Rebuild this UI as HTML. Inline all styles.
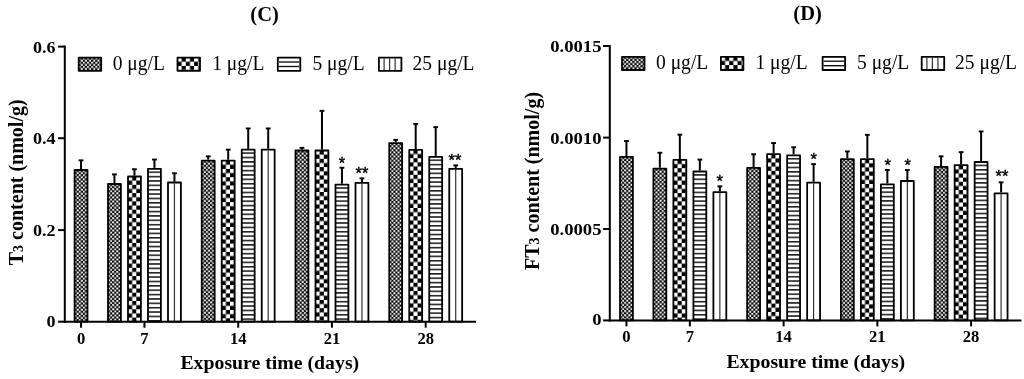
<!DOCTYPE html>
<html lang="en">
<head>
<meta charset="utf-8">
<title>T3 and FT3 content</title>
<style>
html,body{margin:0;padding:0;background:#fff;}
body{width:1024px;height:379px;overflow:hidden;}
svg{display:block;filter:blur(0.35px);}
text{font-family:"Liberation Serif","Times New Roman",serif;fill:#000;}
.tk{font-weight:bold;font-size:17.2px;}
.at{font-weight:bold;font-size:20px;}
.tt{font-weight:bold;font-size:20.5px;}
.lg{font-size:20.5px;}
.st{font-family:"Liberation Sans",Arial,sans-serif;font-size:16.5px;stroke:#000;stroke-width:0.4px;}
</style>
</head>
<body>
<svg width="1024" height="379" viewBox="0 0 1024 379">
<defs>
<pattern id="pf" patternUnits="userSpaceOnUse" width="4.14" height="4.14" x="0" y="0">
<rect width="4.14" height="4.14" fill="#0a0a0a"/>
<rect x="0.1" y="0.1" width="1.87" height="1.87" fill="#fff"/>
<rect x="2.17" y="2.17" width="1.87" height="1.87" fill="#fff"/>
</pattern>
<pattern id="pc" patternUnits="userSpaceOnUse" width="8.3" height="8.3" x="0" y="0">
<rect width="8.3" height="8.3" fill="#000"/>
<rect x="0" y="0" width="4.15" height="4.15" fill="#fff"/>
<rect x="4.15" y="4.15" width="4.15" height="4.15" fill="#fff"/>
</pattern>
<pattern id="ph" patternUnits="userSpaceOnUse" width="20" height="4.37" x="0" y="0">
<rect width="20" height="4.37" fill="#fff"/>
<rect x="0" y="2.7" width="20" height="1.45" fill="#0d0d0d"/>
</pattern>
<pattern id="pv" patternUnits="userSpaceOnUse" width="20" height="10">
<rect width="20" height="10" fill="#fff"/>
</pattern>
</defs>
<rect width="1024" height="379" fill="#fff"/>
<g id="chartC">
<line x1="81.05" y1="169.1" x2="81.05" y2="159.9" stroke="#000" stroke-width="2.0"/>
<line x1="78.65" y1="160.35" x2="83.45" y2="160.35" stroke="#000" stroke-width="1.9"/>
<g transform="translate(74.6,170)"><rect x="0" y="0" width="12.9" height="151.7" fill="url(#pf)" stroke="#000" stroke-width="1.8" stroke-linejoin="round"/></g>
<line x1="114.45" y1="183.1" x2="114.45" y2="173.9" stroke="#000" stroke-width="2.0"/>
<line x1="112.05" y1="174.35" x2="116.85" y2="174.35" stroke="#000" stroke-width="1.9"/>
<g transform="translate(108,184)"><rect x="0" y="0" width="12.9" height="137.7" fill="url(#pf)" stroke="#000" stroke-width="1.8" stroke-linejoin="round"/></g>
<line x1="134.45" y1="175.6" x2="134.45" y2="168.8" stroke="#000" stroke-width="2.0"/>
<line x1="132.05" y1="169.25" x2="136.85" y2="169.25" stroke="#000" stroke-width="1.9"/>
<g transform="translate(128,176.5)"><rect x="0" y="0" width="12.9" height="145.2" fill="url(#pc)" stroke="#000" stroke-width="1.8" stroke-linejoin="round"/></g>
<line x1="154.45" y1="167.9" x2="154.45" y2="159.1" stroke="#000" stroke-width="2.0"/>
<line x1="152.05" y1="159.55" x2="156.85" y2="159.55" stroke="#000" stroke-width="1.9"/>
<g transform="translate(148,168.8)"><rect x="0" y="0" width="12.9" height="152.9" fill="url(#ph)" stroke="#000" stroke-width="1.8" stroke-linejoin="round"/></g>
<line x1="174.45" y1="181.6" x2="174.45" y2="172.8" stroke="#000" stroke-width="2.0"/>
<line x1="172.05" y1="173.25" x2="176.85" y2="173.25" stroke="#000" stroke-width="1.9"/>
<g transform="translate(168,182.5)"><rect x="0" y="0" width="12.9" height="139.2" fill="url(#pv)" stroke="#000" stroke-width="1.8" stroke-linejoin="round"/></g>
<line x1="174.45" y1="183.4" x2="174.45" y2="321.7" stroke="#333" stroke-width="1.2"/>
<line x1="208.2" y1="159.7" x2="208.2" y2="155.9" stroke="#000" stroke-width="2.0"/>
<line x1="205.8" y1="156.35" x2="210.6" y2="156.35" stroke="#000" stroke-width="1.9"/>
<g transform="translate(201.75,160.6)"><rect x="0" y="0" width="12.9" height="161.1" fill="url(#pf)" stroke="#000" stroke-width="1.8" stroke-linejoin="round"/></g>
<line x1="228.2" y1="159.7" x2="228.2" y2="149.2" stroke="#000" stroke-width="2.0"/>
<line x1="225.8" y1="149.65" x2="230.6" y2="149.65" stroke="#000" stroke-width="1.9"/>
<g transform="translate(221.75,160.6)"><rect x="0" y="0" width="12.9" height="161.1" fill="url(#pc)" stroke="#000" stroke-width="1.8" stroke-linejoin="round"/></g>
<line x1="248.2" y1="148.8" x2="248.2" y2="128" stroke="#000" stroke-width="2.0"/>
<line x1="245.8" y1="128.45" x2="250.6" y2="128.45" stroke="#000" stroke-width="1.9"/>
<g transform="translate(241.75,149.7)"><rect x="0" y="0" width="12.9" height="172" fill="url(#ph)" stroke="#000" stroke-width="1.8" stroke-linejoin="round"/></g>
<line x1="268.2" y1="148.8" x2="268.2" y2="128" stroke="#000" stroke-width="2.0"/>
<line x1="265.8" y1="128.45" x2="270.6" y2="128.45" stroke="#000" stroke-width="1.9"/>
<g transform="translate(261.75,149.7)"><rect x="0" y="0" width="12.9" height="172" fill="url(#pv)" stroke="#000" stroke-width="1.8" stroke-linejoin="round"/></g>
<line x1="268.2" y1="150.6" x2="268.2" y2="321.7" stroke="#333" stroke-width="1.2"/>
<line x1="301.95" y1="149.6" x2="301.95" y2="147.4" stroke="#000" stroke-width="2.0"/>
<line x1="299.55" y1="147.85" x2="304.35" y2="147.85" stroke="#000" stroke-width="1.9"/>
<g transform="translate(295.5,150.5)"><rect x="0" y="0" width="12.9" height="171.2" fill="url(#pf)" stroke="#000" stroke-width="1.8" stroke-linejoin="round"/></g>
<line x1="321.95" y1="149.6" x2="321.95" y2="110.4" stroke="#000" stroke-width="2.0"/>
<line x1="319.55" y1="110.85" x2="324.35" y2="110.85" stroke="#000" stroke-width="1.9"/>
<g transform="translate(315.5,150.5)"><rect x="0" y="0" width="12.9" height="171.2" fill="url(#pc)" stroke="#000" stroke-width="1.8" stroke-linejoin="round"/></g>
<line x1="341.95" y1="183.7" x2="341.95" y2="167.3" stroke="#000" stroke-width="2.0"/>
<line x1="339.55" y1="167.75" x2="344.35" y2="167.75" stroke="#000" stroke-width="1.9"/>
<g transform="translate(335.5,184.6)"><rect x="0" y="0" width="12.9" height="137.1" fill="url(#ph)" stroke="#000" stroke-width="1.8" stroke-linejoin="round"/></g>
<line x1="361.95" y1="182" x2="361.95" y2="177.9" stroke="#000" stroke-width="2.0"/>
<line x1="359.55" y1="178.35" x2="364.35" y2="178.35" stroke="#000" stroke-width="1.9"/>
<g transform="translate(355.5,182.9)"><rect x="0" y="0" width="12.9" height="138.8" fill="url(#pv)" stroke="#000" stroke-width="1.8" stroke-linejoin="round"/></g>
<line x1="361.95" y1="183.8" x2="361.95" y2="321.7" stroke="#333" stroke-width="1.2"/>
<line x1="395.7" y1="142.2" x2="395.7" y2="139.4" stroke="#000" stroke-width="2.0"/>
<line x1="393.3" y1="139.85" x2="398.1" y2="139.85" stroke="#000" stroke-width="1.9"/>
<g transform="translate(389.25,143.1)"><rect x="0" y="0" width="12.9" height="178.6" fill="url(#pf)" stroke="#000" stroke-width="1.8" stroke-linejoin="round"/></g>
<line x1="415.7" y1="149" x2="415.7" y2="123.5" stroke="#000" stroke-width="2.0"/>
<line x1="413.3" y1="123.95" x2="418.1" y2="123.95" stroke="#000" stroke-width="1.9"/>
<g transform="translate(409.25,149.9)"><rect x="0" y="0" width="12.9" height="171.8" fill="url(#pc)" stroke="#000" stroke-width="1.8" stroke-linejoin="round"/></g>
<line x1="435.7" y1="155.9" x2="435.7" y2="126.7" stroke="#000" stroke-width="2.0"/>
<line x1="433.3" y1="127.15" x2="438.1" y2="127.15" stroke="#000" stroke-width="1.9"/>
<g transform="translate(429.25,156.8)"><rect x="0" y="0" width="12.9" height="164.9" fill="url(#ph)" stroke="#000" stroke-width="1.8" stroke-linejoin="round"/></g>
<line x1="455.7" y1="168" x2="455.7" y2="164.9" stroke="#000" stroke-width="2.0"/>
<line x1="453.3" y1="165.35" x2="458.1" y2="165.35" stroke="#000" stroke-width="1.9"/>
<g transform="translate(449.25,168.9)"><rect x="0" y="0" width="12.9" height="152.8" fill="url(#pv)" stroke="#000" stroke-width="1.8" stroke-linejoin="round"/></g>
<line x1="455.7" y1="169.8" x2="455.7" y2="321.7" stroke="#333" stroke-width="1.2"/>
<line x1="64.8" y1="45.6" x2="64.8" y2="322.7" stroke="#000" stroke-width="2.0"/>
<line x1="63.8" y1="321.7" x2="476.05" y2="321.7" stroke="#000" stroke-width="2.0"/>
<line x1="58.1" y1="321.7" x2="64.8" y2="321.7" stroke="#000" stroke-width="2.0"/>
<text class="tk" transform="translate(55.5,327.3) scale(1.05,1)" text-anchor="end">0</text>
<line x1="58.1" y1="230.1" x2="64.8" y2="230.1" stroke="#000" stroke-width="2.0"/>
<text class="tk" transform="translate(55.5,236.3) scale(1.05,1)" text-anchor="end">0.2</text>
<line x1="58.1" y1="138.2" x2="64.8" y2="138.2" stroke="#000" stroke-width="2.0"/>
<text class="tk" transform="translate(55.5,144.4) scale(1.05,1)" text-anchor="end">0.4</text>
<line x1="58.1" y1="46.6" x2="64.8" y2="46.6" stroke="#000" stroke-width="2.0"/>
<text class="tk" transform="translate(55.5,52.8) scale(1.05,1)" text-anchor="end">0.6</text>
<line x1="81.05" y1="321.7" x2="81.05" y2="327.7" stroke="#000" stroke-width="2.0"/>
<text class="tk" style="font-size:16.6px" x="81.05" y="343.6" text-anchor="middle">0</text>
<line x1="144.45" y1="321.7" x2="144.45" y2="327.7" stroke="#000" stroke-width="2.0"/>
<text class="tk" style="font-size:16.6px" x="144.45" y="343.6" text-anchor="middle">7</text>
<line x1="238.2" y1="321.7" x2="238.2" y2="327.7" stroke="#000" stroke-width="2.0"/>
<text class="tk" style="font-size:16.6px" x="238.2" y="343.6" text-anchor="middle">14</text>
<line x1="331.95" y1="321.7" x2="331.95" y2="327.7" stroke="#000" stroke-width="2.0"/>
<text class="tk" style="font-size:16.6px" x="331.95" y="343.6" text-anchor="middle">21</text>
<line x1="425.7" y1="321.7" x2="425.7" y2="327.7" stroke="#000" stroke-width="2.0"/>
<text class="tk" style="font-size:16.6px" x="425.7" y="343.6" text-anchor="middle">28</text>
<text class="at" style="font-size:19.8px" x="269.8" y="369.4" text-anchor="middle">Exposure time (days)</text>
<text class="at" transform="translate(23.4,182.3) rotate(-90)" text-anchor="middle">T<tspan font-size="14">3</tspan> content (nmol/g)</text>
<text class="tt" x="264.6" y="20.7" text-anchor="middle">(C)</text>
<text class="st" x="342" y="169.1" text-anchor="middle">*</text>
<text class="st" x="362" y="179.3" text-anchor="middle">**</text>
<text class="st" x="455" y="165.9" text-anchor="middle">**</text>
<g transform="translate(78.7,57.6)"><rect x="0" y="0" width="22.5" height="13.2" fill="url(#pf)" stroke="#000" stroke-width="1.8" stroke-linejoin="round"/></g>
<text class="lg" transform="translate(112.7,69.5) scale(0.953,1)">0 μg/L</text>
<g transform="translate(177.5,57.6)"><rect x="0" y="0" width="22.5" height="13.2" fill="url(#pc)" stroke="#000" stroke-width="1.8" stroke-linejoin="round"/></g>
<text class="lg" transform="translate(212.2,69.5) scale(0.953,1)">1 μg/L</text>
<g transform="translate(277.8,57.6)"><rect x="0" y="0" width="22.5" height="13.2" fill="#fff" stroke="#000" stroke-width="1.8" stroke-linejoin="round"/></g>
<line x1="278.7" y1="62" x2="299.4" y2="62" stroke="#111" stroke-width="1.35"/>
<line x1="278.7" y1="66.5" x2="299.4" y2="66.5" stroke="#111" stroke-width="1.35"/>
<text class="lg" transform="translate(312.4,69.5) scale(0.953,1)">5 μg/L</text>
<g transform="translate(378.9,57.6)"><rect x="0" y="0" width="22.5" height="13.2" fill="#fff" stroke="#000" stroke-width="1.8" stroke-linejoin="round"/></g>
<line x1="384.1" y1="58.5" x2="384.1" y2="69.9" stroke="#333" stroke-width="1.2"/>
<line x1="389.6" y1="58.5" x2="389.6" y2="69.9" stroke="#333" stroke-width="1.2"/>
<line x1="395.15" y1="58.5" x2="395.15" y2="69.9" stroke="#333" stroke-width="1.2"/>
<text class="lg" transform="translate(412.5,69.5) scale(0.953,1)">25 μg/L</text>
</g>
<g id="chartD">
<line x1="626.45" y1="156" x2="626.45" y2="140.6" stroke="#000" stroke-width="2.0"/>
<line x1="624.05" y1="141.05" x2="628.85" y2="141.05" stroke="#000" stroke-width="1.9"/>
<g transform="translate(620,156.9)"><rect x="0" y="0" width="12.9" height="163.5" fill="url(#pf)" stroke="#000" stroke-width="1.8" stroke-linejoin="round"/></g>
<line x1="659.85" y1="167.7" x2="659.85" y2="152.3" stroke="#000" stroke-width="2.0"/>
<line x1="657.45" y1="152.75" x2="662.25" y2="152.75" stroke="#000" stroke-width="1.9"/>
<g transform="translate(653.4,168.6)"><rect x="0" y="0" width="12.9" height="151.8" fill="url(#pf)" stroke="#000" stroke-width="1.8" stroke-linejoin="round"/></g>
<line x1="679.85" y1="159" x2="679.85" y2="134.2" stroke="#000" stroke-width="2.0"/>
<line x1="677.45" y1="134.65" x2="682.25" y2="134.65" stroke="#000" stroke-width="1.9"/>
<g transform="translate(673.4,159.9)"><rect x="0" y="0" width="12.9" height="160.5" fill="url(#pc)" stroke="#000" stroke-width="1.8" stroke-linejoin="round"/></g>
<line x1="699.85" y1="170.6" x2="699.85" y2="159.1" stroke="#000" stroke-width="2.0"/>
<line x1="697.45" y1="159.55" x2="702.25" y2="159.55" stroke="#000" stroke-width="1.9"/>
<g transform="translate(693.4,171.5)"><rect x="0" y="0" width="12.9" height="148.9" fill="url(#ph)" stroke="#000" stroke-width="1.8" stroke-linejoin="round"/></g>
<line x1="719.85" y1="191.3" x2="719.85" y2="185.9" stroke="#000" stroke-width="2.0"/>
<line x1="717.45" y1="186.35" x2="722.25" y2="186.35" stroke="#000" stroke-width="1.9"/>
<g transform="translate(713.4,192.2)"><rect x="0" y="0" width="12.9" height="128.2" fill="url(#pv)" stroke="#000" stroke-width="1.8" stroke-linejoin="round"/></g>
<line x1="719.85" y1="193.1" x2="719.85" y2="320.4" stroke="#333" stroke-width="1.2"/>
<line x1="753.6" y1="167" x2="753.6" y2="153.8" stroke="#000" stroke-width="2.0"/>
<line x1="751.2" y1="154.25" x2="756" y2="154.25" stroke="#000" stroke-width="1.9"/>
<g transform="translate(747.15,167.9)"><rect x="0" y="0" width="12.9" height="152.5" fill="url(#pf)" stroke="#000" stroke-width="1.8" stroke-linejoin="round"/></g>
<line x1="773.6" y1="153.3" x2="773.6" y2="142.6" stroke="#000" stroke-width="2.0"/>
<line x1="771.2" y1="143.05" x2="776" y2="143.05" stroke="#000" stroke-width="1.9"/>
<g transform="translate(767.15,154.2)"><rect x="0" y="0" width="12.9" height="166.2" fill="url(#pc)" stroke="#000" stroke-width="1.8" stroke-linejoin="round"/></g>
<line x1="793.6" y1="154.4" x2="793.6" y2="146.8" stroke="#000" stroke-width="2.0"/>
<line x1="791.2" y1="147.25" x2="796" y2="147.25" stroke="#000" stroke-width="1.9"/>
<g transform="translate(787.15,155.3)"><rect x="0" y="0" width="12.9" height="165.1" fill="url(#ph)" stroke="#000" stroke-width="1.8" stroke-linejoin="round"/></g>
<line x1="813.6" y1="181.8" x2="813.6" y2="163.7" stroke="#000" stroke-width="2.0"/>
<line x1="811.2" y1="164.15" x2="816" y2="164.15" stroke="#000" stroke-width="1.9"/>
<g transform="translate(807.15,182.7)"><rect x="0" y="0" width="12.9" height="137.7" fill="url(#pv)" stroke="#000" stroke-width="1.8" stroke-linejoin="round"/></g>
<line x1="813.6" y1="183.6" x2="813.6" y2="320.4" stroke="#333" stroke-width="1.2"/>
<line x1="847.35" y1="158.2" x2="847.35" y2="151" stroke="#000" stroke-width="2.0"/>
<line x1="844.95" y1="151.45" x2="849.75" y2="151.45" stroke="#000" stroke-width="1.9"/>
<g transform="translate(840.9,159.1)"><rect x="0" y="0" width="12.9" height="161.3" fill="url(#pf)" stroke="#000" stroke-width="1.8" stroke-linejoin="round"/></g>
<line x1="867.35" y1="158.2" x2="867.35" y2="134.4" stroke="#000" stroke-width="2.0"/>
<line x1="864.95" y1="134.85" x2="869.75" y2="134.85" stroke="#000" stroke-width="1.9"/>
<g transform="translate(860.9,159.1)"><rect x="0" y="0" width="12.9" height="161.3" fill="url(#pc)" stroke="#000" stroke-width="1.8" stroke-linejoin="round"/></g>
<line x1="887.35" y1="183.5" x2="887.35" y2="169.6" stroke="#000" stroke-width="2.0"/>
<line x1="884.95" y1="170.05" x2="889.75" y2="170.05" stroke="#000" stroke-width="1.9"/>
<g transform="translate(880.9,184.4)"><rect x="0" y="0" width="12.9" height="136" fill="url(#ph)" stroke="#000" stroke-width="1.8" stroke-linejoin="round"/></g>
<line x1="907.35" y1="180.1" x2="907.35" y2="169.6" stroke="#000" stroke-width="2.0"/>
<line x1="904.95" y1="170.05" x2="909.75" y2="170.05" stroke="#000" stroke-width="1.9"/>
<g transform="translate(900.9,181)"><rect x="0" y="0" width="12.9" height="139.4" fill="url(#pv)" stroke="#000" stroke-width="1.8" stroke-linejoin="round"/></g>
<line x1="907.35" y1="181.9" x2="907.35" y2="320.4" stroke="#333" stroke-width="1.2"/>
<line x1="941.1" y1="166" x2="941.1" y2="155.9" stroke="#000" stroke-width="2.0"/>
<line x1="938.7" y1="156.35" x2="943.5" y2="156.35" stroke="#000" stroke-width="1.9"/>
<g transform="translate(934.65,166.9)"><rect x="0" y="0" width="12.9" height="153.5" fill="url(#pf)" stroke="#000" stroke-width="1.8" stroke-linejoin="round"/></g>
<line x1="961.1" y1="164.3" x2="961.1" y2="151.7" stroke="#000" stroke-width="2.0"/>
<line x1="958.7" y1="152.15" x2="963.5" y2="152.15" stroke="#000" stroke-width="1.9"/>
<g transform="translate(954.65,165.2)"><rect x="0" y="0" width="12.9" height="155.2" fill="url(#pc)" stroke="#000" stroke-width="1.8" stroke-linejoin="round"/></g>
<line x1="981.1" y1="161.1" x2="981.1" y2="131" stroke="#000" stroke-width="2.0"/>
<line x1="978.7" y1="131.45" x2="983.5" y2="131.45" stroke="#000" stroke-width="1.9"/>
<g transform="translate(974.65,162)"><rect x="0" y="0" width="12.9" height="158.4" fill="url(#ph)" stroke="#000" stroke-width="1.8" stroke-linejoin="round"/></g>
<line x1="1001.1" y1="192.4" x2="1001.1" y2="181.9" stroke="#000" stroke-width="2.0"/>
<line x1="998.7" y1="182.35" x2="1003.5" y2="182.35" stroke="#000" stroke-width="1.9"/>
<g transform="translate(994.65,193.3)"><rect x="0" y="0" width="12.9" height="127.1" fill="url(#pv)" stroke="#000" stroke-width="1.8" stroke-linejoin="round"/></g>
<line x1="1001.1" y1="194.2" x2="1001.1" y2="320.4" stroke="#333" stroke-width="1.2"/>
<line x1="609.8" y1="45" x2="609.8" y2="321.4" stroke="#000" stroke-width="2.0"/>
<line x1="608.8" y1="320.4" x2="1021.45" y2="320.4" stroke="#000" stroke-width="2.0"/>
<line x1="603.1" y1="320.4" x2="609.8" y2="320.4" stroke="#000" stroke-width="2.0"/>
<text class="tk" transform="translate(601.5,325.4) scale(1.085,1)" text-anchor="end">0</text>
<line x1="603.1" y1="229" x2="609.8" y2="229" stroke="#000" stroke-width="2.0"/>
<text class="tk" transform="translate(601.5,235.2) scale(1.085,1)" text-anchor="end">0.0005</text>
<line x1="603.1" y1="137.6" x2="609.8" y2="137.6" stroke="#000" stroke-width="2.0"/>
<text class="tk" transform="translate(601.5,143.8) scale(1.085,1)" text-anchor="end">0.0010</text>
<line x1="603.1" y1="46" x2="609.8" y2="46" stroke="#000" stroke-width="2.0"/>
<text class="tk" transform="translate(601.5,52.2) scale(1.085,1)" text-anchor="end">0.0015</text>
<line x1="626.45" y1="320.4" x2="626.45" y2="326.4" stroke="#000" stroke-width="2.0"/>
<text class="tk" style="font-size:16.6px" x="626.45" y="342.3" text-anchor="middle">0</text>
<line x1="689.85" y1="320.4" x2="689.85" y2="326.4" stroke="#000" stroke-width="2.0"/>
<text class="tk" style="font-size:16.6px" x="689.85" y="342.3" text-anchor="middle">7</text>
<line x1="783.6" y1="320.4" x2="783.6" y2="326.4" stroke="#000" stroke-width="2.0"/>
<text class="tk" style="font-size:16.6px" x="783.6" y="342.3" text-anchor="middle">14</text>
<line x1="877.35" y1="320.4" x2="877.35" y2="326.4" stroke="#000" stroke-width="2.0"/>
<text class="tk" style="font-size:16.6px" x="877.35" y="342.3" text-anchor="middle">21</text>
<line x1="971.1" y1="320.4" x2="971.1" y2="326.4" stroke="#000" stroke-width="2.0"/>
<text class="tk" style="font-size:16.6px" x="971.1" y="342.3" text-anchor="middle">28</text>
<text class="at" style="font-size:19.8px" x="815.8" y="368.1" text-anchor="middle">Exposure time (days)</text>
<text class="at" transform="translate(538.9,181) rotate(-90)" text-anchor="middle">FT<tspan font-size="14">3</tspan> content (nmol/g)</text>
<text class="tt" x="807.6" y="19.8" text-anchor="middle">(D)</text>
<text class="st" x="719.8" y="187" text-anchor="middle">*</text>
<text class="st" x="813.6" y="165.2" text-anchor="middle">*</text>
<text class="st" x="887.7" y="170.5" text-anchor="middle">*</text>
<text class="st" x="907.7" y="170.5" text-anchor="middle">*</text>
<text class="st" x="1002" y="182.3" text-anchor="middle">**</text>
<g transform="translate(622,56.8)"><rect x="0" y="0" width="22.5" height="13.2" fill="url(#pf)" stroke="#000" stroke-width="1.8" stroke-linejoin="round"/></g>
<text class="lg" transform="translate(656,68.7) scale(0.953,1)">0 μg/L</text>
<g transform="translate(720.9,56.8)"><rect x="0" y="0" width="22.5" height="13.2" fill="url(#pc)" stroke="#000" stroke-width="1.8" stroke-linejoin="round"/></g>
<text class="lg" transform="translate(755.4,68.7) scale(0.953,1)">1 μg/L</text>
<g transform="translate(822.6,56.8)"><rect x="0" y="0" width="22.5" height="13.2" fill="#fff" stroke="#000" stroke-width="1.8" stroke-linejoin="round"/></g>
<line x1="823.5" y1="61.2" x2="844.2" y2="61.2" stroke="#111" stroke-width="1.35"/>
<line x1="823.5" y1="65.7" x2="844.2" y2="65.7" stroke="#111" stroke-width="1.35"/>
<text class="lg" transform="translate(857,68.7) scale(0.953,1)">5 μg/L</text>
<g transform="translate(921.7,56.8)"><rect x="0" y="0" width="22.5" height="13.2" fill="#fff" stroke="#000" stroke-width="1.8" stroke-linejoin="round"/></g>
<line x1="926.9" y1="57.7" x2="926.9" y2="69.1" stroke="#333" stroke-width="1.2"/>
<line x1="932.4" y1="57.7" x2="932.4" y2="69.1" stroke="#333" stroke-width="1.2"/>
<line x1="937.95" y1="57.7" x2="937.95" y2="69.1" stroke="#333" stroke-width="1.2"/>
<text class="lg" transform="translate(955,68.7) scale(0.953,1)">25 μg/L</text>
</g>
</svg>
</body>
</html>
